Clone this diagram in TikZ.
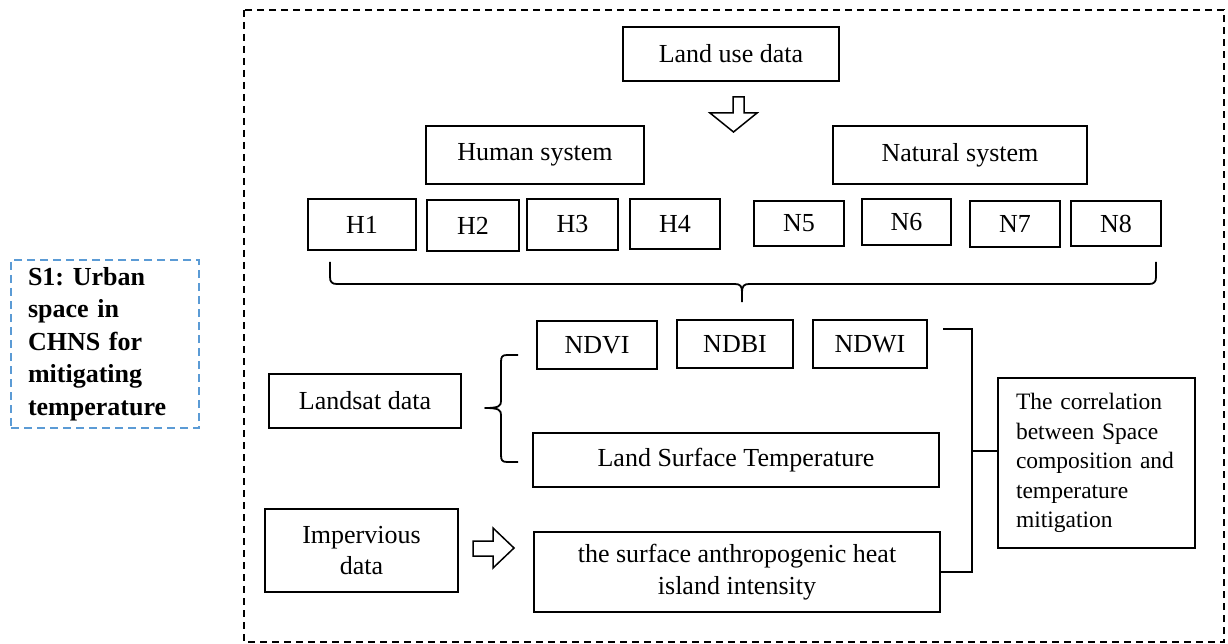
\documentclass[tikz,border=0pt]{standalone}
\usepackage{fontspec}
\setmainfont{Liberation Serif}
\frenchspacing
\begin{document}
\begin{tikzpicture}[x=1pt,y=-1pt,
  box/.style={draw=black, line width=1.6pt, inner sep=0pt, align=center,
    font=\fontsize{26}{31.5}\selectfont},
  link/.style={draw=black, line width=1.6pt},
  bracebar/.style={draw=black, line width=1.8pt, line join=round},
  blockarrow/.style={draw=black, line width=1.5pt, fill=white, line join=miter}]
\useasboundingbox (0,0) rectangle (1228,644);
\fill[white] (0,0) rectangle (1228,644);

% outer dashed frame
\draw[line width=1.6pt, dash pattern=on 7pt off 5pt] (244,10) rectangle (1224,642);

% scenario label
\node[draw={rgb,255:red,91;green,155;blue,213}, line width=1.6pt,
  dash pattern=on 8pt off 5pt, minimum width=188pt, minimum height=168pt,
  inner xsep=17pt, text width=154pt, align=left,
  font=\fontsize{26}{32.5}\selectfont\bfseries] (s1) at (105,344)
  {S1: Urban\\space in\\CHNS for\\mitigating\\temperature};

% land use classification
\node[box, minimum width=216pt, minimum height=54pt] (land) at (731,54) {Land use data};
\node[box, minimum width=218pt, minimum height=58pt] (human) at (535,155) {Human system};
\node[box, minimum width=254pt, minimum height=58pt] (natural) at (960,155) {Natural system};

\node[box, minimum width=108pt, minimum height=51pt] (h1) at (362,224.5) {H1};
\node[box, minimum width=92pt, minimum height=51pt] (h2) at (473,225.5) {H2};
\node[box, minimum width=91pt, minimum height=51pt] (h3) at (572.5,224.5) {H3};
\node[box, minimum width=90pt, minimum height=50pt] (h4) at (675,224) {H4};
\node[box, minimum width=90pt, minimum height=45pt] (n5) at (799,223.5) {N5};
\node[box, minimum width=89pt, minimum height=46pt] (n6) at (906.5,222) {N6};
\node[box, minimum width=90pt, minimum height=46pt] (n7) at (1015,224) {N7};
\node[box, minimum width=90pt, minimum height=45pt] (n8) at (1116,223.5) {N8};

% hollow arrow from land use data down to the systems
\draw[blockarrow] (733,97) -- (744,97) -- (744,113) -- (757,113) -- (733.5,132)
  -- (710,113) -- (733,113) -- cycle;

% brace gathering H1..N8
\draw[bracebar] (330,262) -- (330,277) .. controls (330,282) and (332,284) .. (337,284)
  -- (735,284) .. controls (740,284) and (742,286) .. (742,292) -- (742,302);
\draw[bracebar] (1156,262) -- (1156,277) .. controls (1156,282) and (1154,284) .. (1149,284)
  -- (749,284) .. controls (744,284) and (742,286) .. (742,292);

% indices from remote sensing
\node[box, minimum width=120pt, minimum height=48pt] (ndvi) at (597,345) {NDVI};
\node[box, minimum width=116pt, minimum height=48pt] (ndbi) at (735,344) {NDBI};
\node[box, minimum width=114pt, minimum height=48pt] (ndwi) at (870,344) {NDWI};
\node[box, minimum width=192pt, minimum height=54pt] (landsat) at (365,401) {Landsat data};
\node[box, minimum width=406pt, minimum height=54pt] (lst) at (736,460) {Land Surface Temperature};
\node[box, minimum width=406pt, minimum height=80pt] (shii) at (737,572)
  {the surface anthropogenic heat\\island intensity};
\node[box, minimum width=193pt, minimum height=83pt] (imperv) at (361.5,550.5)
  {Impervious\\data};

% brace from Landsat data to its products
\draw[bracebar] (518,355) -- (507,355) .. controls (502,355) and (501,357) .. (501,362)
  -- (501,401) .. controls (501,406) and (499,408) .. (485,408)
  .. controls (499,408) and (501,410) .. (501,415)
  -- (501,455) .. controls (501,460) and (502,462) .. (507,462) -- (518,462);

% hollow arrow from impervious data to heat island intensity
\draw[blockarrow] (473,541) -- (493,541) -- (493,528) -- (514,548) -- (493,568)
  -- (493,556) -- (473,556) -- cycle;

% correlation box and its collecting bracket
\node[box, minimum width=197pt, minimum height=170pt, inner xsep=18pt,
  text width=161pt, align=left, font=\fontsize{23.5}{29.5}\selectfont] (corr) at (1096.5,463)
  {The correlation\\between Space\\composition and\\temperature\\mitigation};

\coordinate (btop) at (943,329);
\coordinate (bjoin) at (972,451);
\draw[link] (btop) -| (bjoin) |- (shii.east);
\draw[link] (bjoin) -- (bjoin -| corr.west);
\end{tikzpicture}
\end{document}
